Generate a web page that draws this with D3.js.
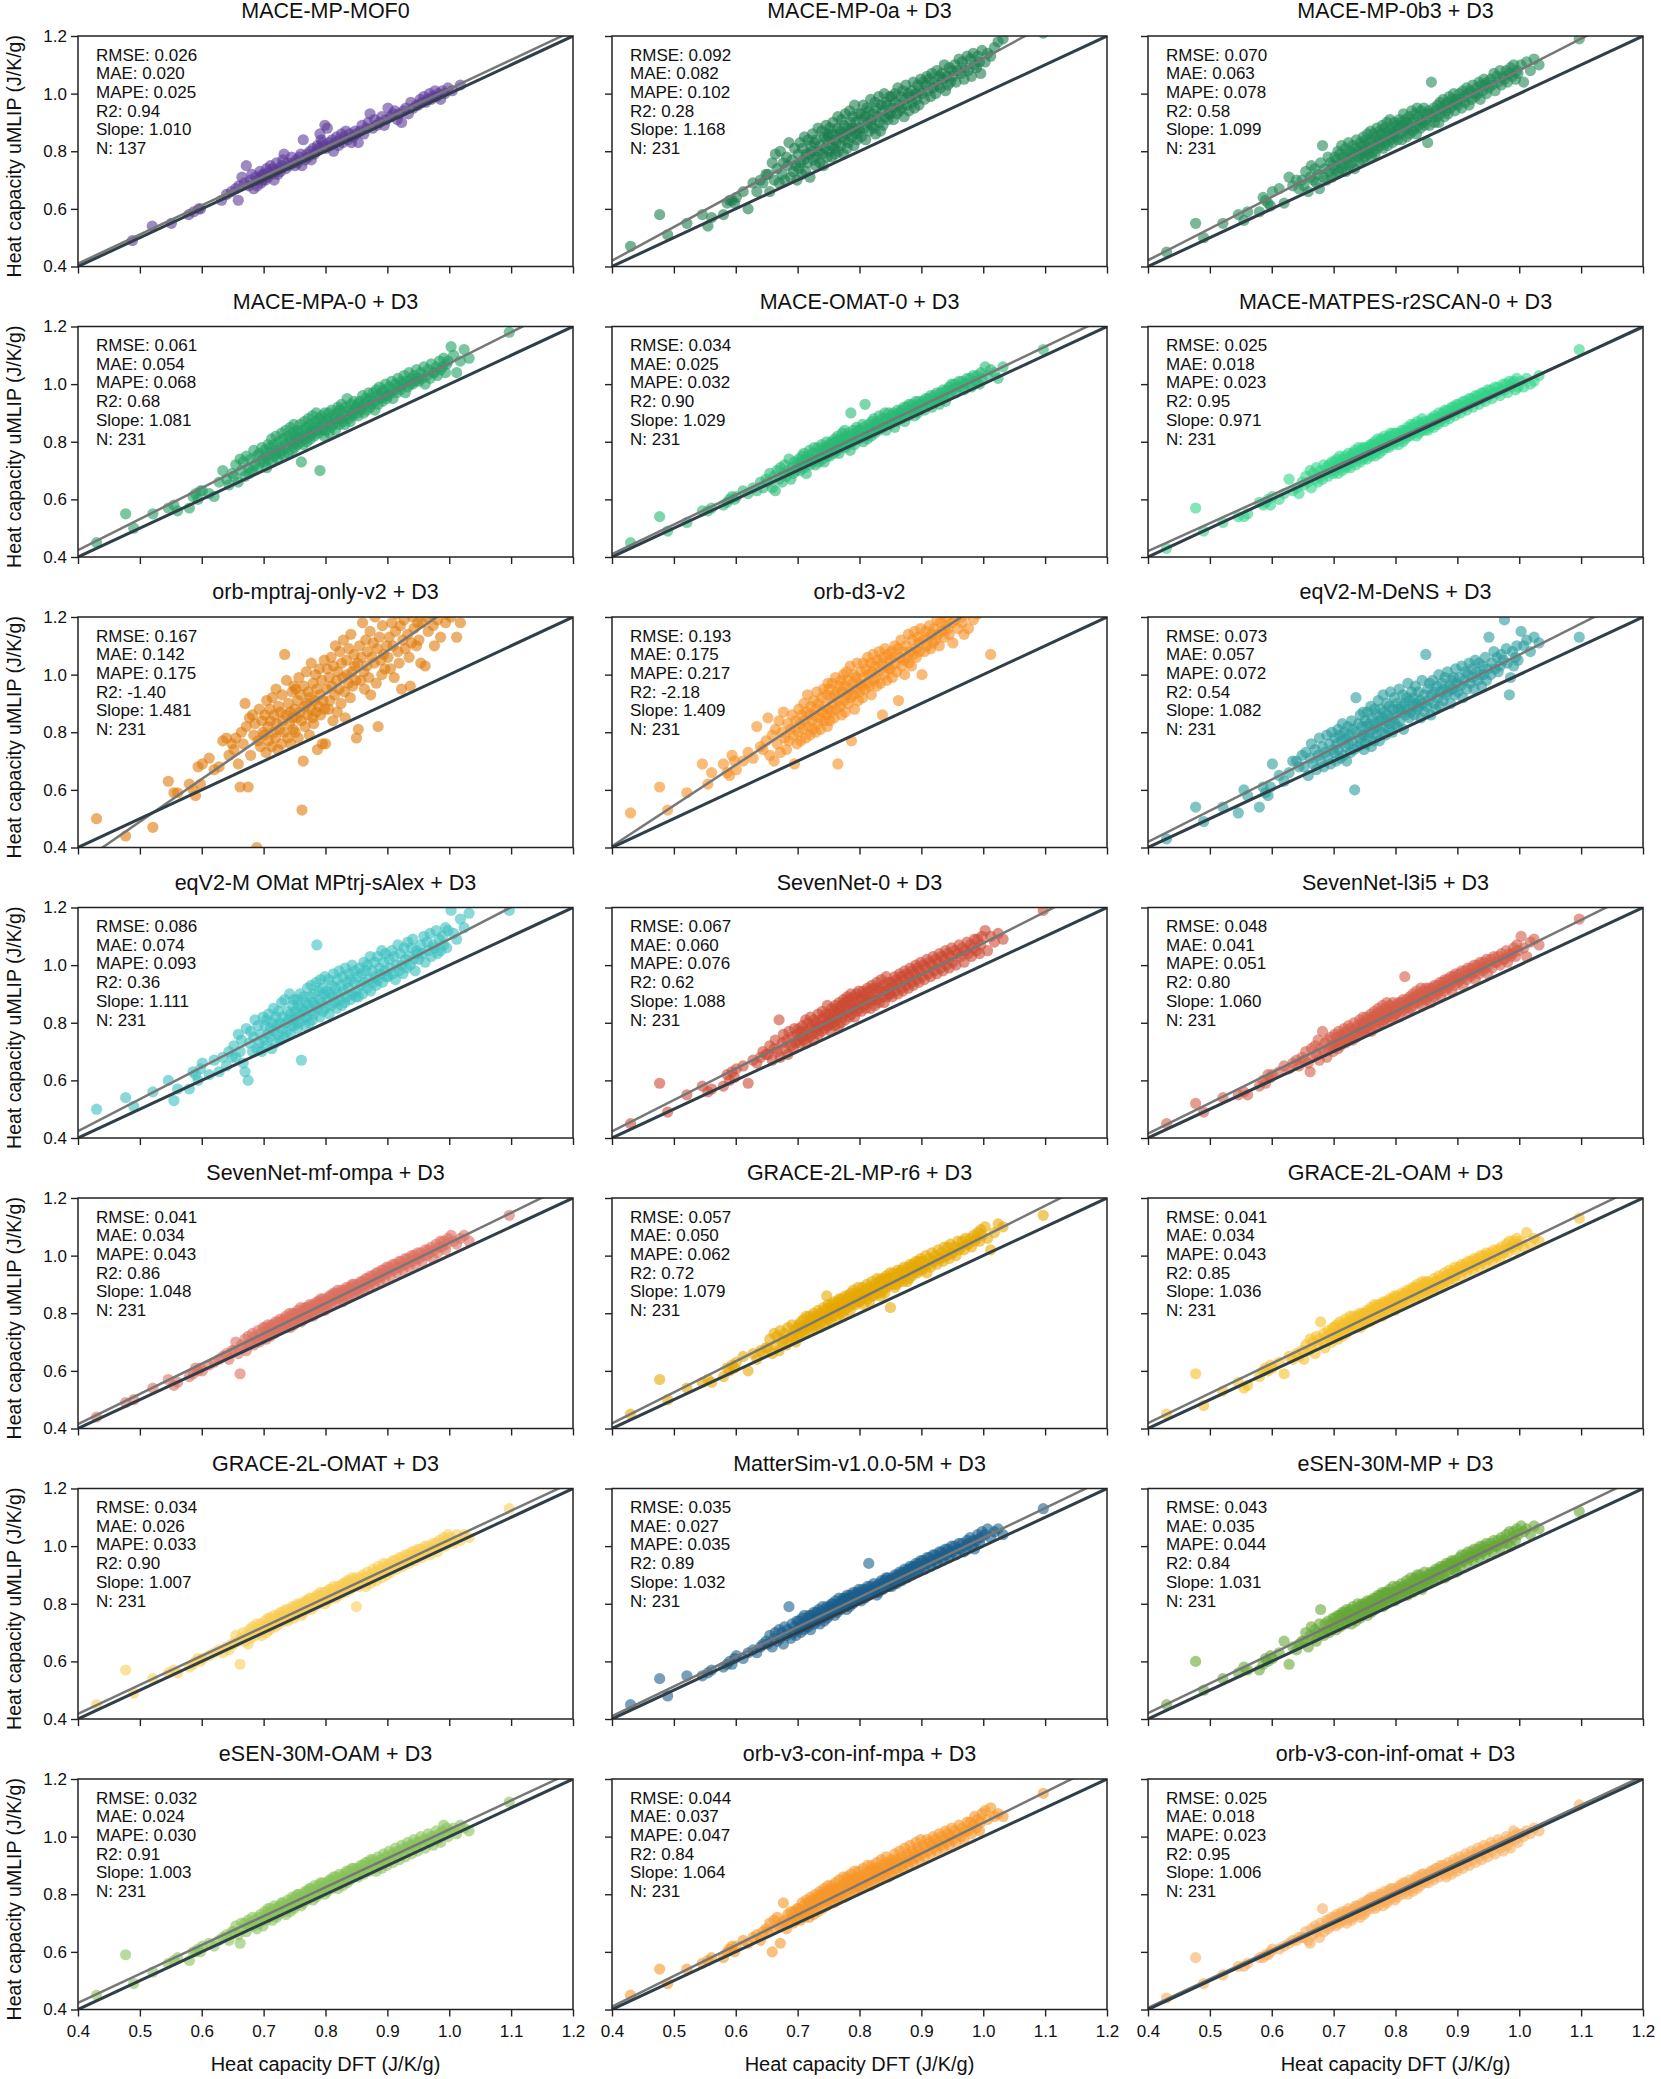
<!DOCTYPE html>
<html>
<head>
<meta charset="utf-8">
<script src="https://cdn.jsdelivr.net/npm/d3@7"></script>
<style>
  body { margin: 0; background: #fff; }
  svg text { font-family: "Liberation Sans", Arial, Helvetica, sans-serif; fill: #111; }
</style>
</head>
<body>
<svg id="chart" width="1661" height="2079"></svg>
<script>
// Heat capacity parity plots, one panel per uMLIP.

// DFT heat capacity of the 231 materials, in 0.001 J/K/g (sorted)
var dftX = [
  430,477,490,521,546,555,561,580,586,590,594,598,601,612,620,628,634,640,644,649,
  652,655,659,662,664,667,670,672,675,677,679,682,684,686,689,691,693,695,697,699,
  701,702,704,705,707,708,710,711,713,714,716,717,719,720,721,723,724,726,727,729,730,731,733,734,736,737,739,740,742,743,744,746,747,748,749,
  750,751,752,754,755,756,757,759,760,761,762,764,765,766,767,769,770,771,772,774,775,776,777,779,780,781,782,784,785,786,787,789,790,791,792,794,795,796,798,799,
  800,802,803,805,806,807,809,810,812,813,815,816,818,819,820,822,823,825,826,828,829,831,832,834,835,837,838,840,841,843,844,846,847,849,
  850,852,853,855,857,858,860,862,863,865,867,868,870,872,873,875,877,879,880,882,884,885,887,889,891,892,894,896,897,899,
  901,903,905,907,909,911,913,915,917,919,921,923,925,927,929,931,933,935,937,939,941,943,945,947,949,
  951,954,956,959,961,964,966,969,971,974,976,979,981,984,986,989,991,994,996,998,
  1003,1007,1012,1018,1024,1032,1097
];

// MACE-MP-MOF0 only covers 137 of them, in 0.001 J/K/g
var mof0X = [
  488,520,551,579,587,595,598,632,640,648,655,659,660,
  665,669,672,676,679,681,684,687,690,692,694,696,697,698,699,
  701,703,705,707,709,711,713,715,717,719,721,723,725,727,729,731,733,736,739,742,745,748,
  751,753,755,758,760,762,764,767,770,772,775,777,780,782,785,787,789,791,793,795,797,799,
  801,803,806,808,811,813,816,818,821,823,826,828,831,833,836,839,842,845,848,850,
  853,856,859,862,866,869,872,876,879,883,887,891,895,898,
  901,905,909,912,916,919,923,926,930,934,938,942,947,
  950,953,956,959,962,965,968,971,974,977,980,983,986,989,993,998,1005,1018
];

// uMLIP heat capacity, in 0.01 J/K/g, same order as the x arrays
var mof0Y = [
  49,54,55,58,59,60,60,63,65,66,67,63,68,
  71,69,75,68,70,72,67,71,68,70,73,69,71,72,70,
  72,70,74,71,73,75,72,74,70,73,76,72,74,73,75,77,79,74,76,75,78,76,
  75,77,76,78,79,75,84,77,79,78,80,77,81,79,80,82,81,86,84,83,82,89,
  81,88,83,82,84,80,83,85,82,84,86,83,85,87,84,86,83,85,87,86,
  83,87,89,86,88,90,93,88,91,89,90,92,89,91,
  95,92,93,94,91,93,90,94,95,93,97,95,96,
  96,98,97,99,97,98,100,98,99,101,99,100,98,101,100,102,101,103
];
var mp0aY = [
  47,58,51,55,58,54,57,58,62,63,63,62,64,66,60,69,66,70,69,72,
  72,66,76,70,79,74,69,80,72,76,70,78,75,83,71,77,73,81,75,70,
  79,74,83,76,72,81,77,85,73,79,76,84,79,71,82,80,86,77,83,75,84,78,88,80,76,82,87,79,75,85,81,89,84,78,86,
  85,80,88,82,78,86,90,81,84,79,83,88,92,80,86,87,82,91,85,79,89,84,93,86,81,88,83,94,87,90,85,92,88,82,96,90,86,84,93,88,
  87,93,85,91,96,88,92,84,95,90,94,87,98,91,89,93,88,97,86,95,92,99,90,87,96,94,89,100,92,97,96,91,93,99,
  93,99,95,91,100,97,93,102,96,94,99,95,101,92,98,103,96,100,94,99,101,97,104,95,100,98,103,96,101,105,
  100,104,98,103,106,101,105,99,107,102,104,100,108,103,106,102,107,105,110,101,106,103,109,104,108,
  106,110,104,108,112,107,111,105,109,113,108,112,106,114,110,109,113,111,107,115,
  111,114,113,116,118,119,121
];
var mp0b3Y = [
  45,55,50,55,58,56,59,59,64,63,62,61,66,67,62,71,68,70,67,70,
  68,73,66,71,75,70,74,69,72,67,76,82,71,74,70,78,73,76,71,75,
  74,78,72,77,80,73,79,76,82,74,78,75,81,73,79,77,83,75,80,78,76,82,79,74,81,84,78,80,76,83,79,82,77,85,80,
  82,78,84,80,86,79,83,81,87,78,84,80,86,82,79,85,88,81,84,83,87,82,86,89,81,84,88,83,86,90,82,87,85,91,84,88,83,86,90,87,
  85,89,84,88,91,86,90,84,89,93,87,91,85,90,88,92,86,90,94,87,91,88,93,86,95,89,92,88,94,91,90,95,89,93,
  91,83,94,89,93,104,92,95,90,94,92,96,90,97,93,95,98,92,96,94,97,93,99,95,98,96,100,94,98,97,
  96,100,98,95,101,99,97,102,100,96,101,98,103,100,99,102,100,104,98,103,101,105,103,100,104,
  102,105,103,107,101,106,104,108,103,106,105,108,104,107,109,106,110,105,108,107,
  110,104,111,108,112,110,119
];
var mpa0Y = [
  45,55,50,55,57,58,56,57,61,62,60,63,63,62,61,66,70,67,65,69,
  68,72,66,74,70,73,68,75,71,69,74,70,77,72,75,71,76,73,78,74,
  73,77,75,71,79,74,78,76,81,73,79,75,77,82,76,74,80,78,76,83,77,81,75,79,84,78,82,76,80,85,81,77,83,79,86,
  78,82,80,84,79,83,81,86,80,73,84,79,82,87,81,85,80,83,88,82,86,81,84,89,83,85,82,87,90,84,86,83,88,70,85,89,84,87,82,90,
  84,88,86,90,83,87,85,91,86,89,88,84,90,87,92,86,91,88,93,87,90,86,92,89,95,88,91,87,93,90,89,94,91,92,
  90,93,89,94,91,92,96,90,93,95,91,94,97,92,95,93,97,94,91,98,96,93,99,95,97,94,98,96,100,95,
  96,99,97,101,95,98,100,97,102,99,98,101,100,103,97,101,99,104,100,102,100,103,101,105,102,
  101,104,102,106,100,103,105,102,107,104,104,106,103,108,105,106,109,104,107,108,
  113,110,104,108,112,109,118
];
var omat0Y = [
  45,54,49,52,56,56,57,58,59,60,61,60,61,63,62,64,63,66,64,67,
  66,69,64,68,63,70,67,71,66,69,72,68,70,74,67,71,69,73,70,72,
  71,74,70,73,75,72,76,71,74,69,75,73,77,72,74,73,76,74,78,72,76,74,78,73,77,75,79,74,77,73,78,76,80,75,77,
  76,79,75,78,80,77,79,76,81,78,80,77,82,79,76,81,78,80,83,79,81,84,78,82,80,79,83,81,77,90,82,80,84,81,79,83,85,81,84,82,
  81,84,82,86,80,85,93,82,84,81,86,83,85,82,87,84,88,83,86,85,87,84,89,85,86,88,85,87,90,84,88,86,90,87,
  86,89,87,90,85,89,87,91,88,90,88,91,89,92,87,90,92,89,93,91,90,93,91,89,94,92,90,94,91,93,
  92,94,91,95,93,95,93,96,92,94,96,94,97,95,93,97,95,98,96,94,98,96,99,97,100,
  98,100,97,99,101,99,101,98,100,102,100,102,99,103,101,101,103,100,104,102,
  106,103,105,104,102,106,112
];
var matpesY = [
  43,57,49,52,54,54,55,59,58,59,60,58,61,60,62,67,63,64,62,66,
  65,68,66,70,64,69,67,71,66,68,70,67,72,69,71,68,72,70,73,69,
  70,73,71,74,69,72,75,71,73,70,74,72,75,71,73,72,76,74,71,75,73,76,74,77,72,76,74,78,75,73,77,75,78,74,76,
  75,78,76,74,77,78,76,79,75,77,79,76,78,80,75,79,77,81,78,76,80,78,81,77,79,80,82,78,81,79,81,78,82,80,83,80,82,79,83,81,
  80,83,81,79,82,83,81,84,80,82,84,81,83,85,82,84,82,86,83,85,83,86,84,82,87,85,83,86,84,88,86,84,87,85,
  86,84,87,85,88,86,88,85,89,87,88,86,90,87,89,88,90,87,91,89,89,91,88,90,92,90,92,89,91,93,
  91,93,90,92,94,92,94,91,93,95,93,95,92,94,96,94,96,93,95,97,95,97,94,96,98,
  96,98,95,97,99,97,99,96,98,100,98,100,97,101,99,100,101,98,102,99,
  101,99,102,100,101,103,112
];
var orbMptrajY = [
  50,44,38,47,63,59,59,62,60,58,68,62,69,71,67,68,77,78,72,76,
  74,78,69,61,80,76,90,82,61,85,72,86,79,83,40,77,88,75,84,80,
  79,86,73,91,82,77,88,84,75,92,80,86,78,95,83,74,89,81,87,76,93,84,80,107,86,98,78,90,83,87,76,94,85,81,96,
  88,80,95,85,91,78,99,87,93,84,53,70,96,89,82,101,90,86,94,79,92,88,104,85,97,83,91,100,87,95,74,89,102,93,86,98,76,91,105,88,
  76,95,102,88,99,91,106,96,84,103,93,110,98,87,101,95,108,90,104,99,112,94,85,105,100,97,109,92,114,101,96,107,103,98,
  78,104,81,110,98,106,118,101,95,112,103,108,99,115,93,106,111,104,120,97,109,82,113,105,100,117,107,102,122,110,
  106,113,102,118,110,99,115,121,108,104,117,95,112,119,109,123,114,106,96,111,120,116,125,110,118,
  112,104,118,124,103,120,115,126,121,117,110,123,119,125,113,122,128,118,121,124,
  120,126,113,118,124,129,135
];
var orbD3Y = [
  52,61,53,59,69,62,66,69,66,65,72,70,67,70,73,71,82,75,74,77,
  85,72,79,70,81,76,84,73,80,87,78,74,83,77,81,86,79,69,84,76,
  80,88,83,77,86,81,90,84,78,87,93,82,86,79,89,84,81,91,86,80,88,94,83,90,85,81,92,87,95,84,89,86,93,82,97,
  88,95,84,92,87,97,90,85,93,99,88,94,69,91,96,89,98,86,94,100,91,96,87,101,93,98,90,95,103,92,77,97,93,100,88,99,95,104,91,97,
  94,101,96,92,104,99,95,102,97,106,100,96,104,93,101,107,98,103,99,96,105,101,108,97,104,86,106,100,109,103,98,107,102,105,
  102,108,99,106,110,104,101,109,91,106,112,103,108,105,100,110,106,114,104,108,103,112,107,115,109,106,113,111,108,116,
  100,112,108,115,110,113,117,109,114,111,116,112,119,114,110,118,115,121,113,117,120,116,114,122,118,
  111,119,122,116,125,120,118,114,123,121,116,126,122,119,124,127,121,125,123,128,
  125,129,107,126,130,132,140
];
var eqv2DensY = [
  43,54,49,54,52,60,58,54,61,59,58,61,69,65,63,66,70,70,68,72,
  68,73,65,71,76,69,74,67,72,78,70,75,68,73,79,71,76,69,80,74,
  73,78,70,76,81,74,79,71,77,83,72,80,75,78,70,82,76,79,73,84,77,81,74,60,92,80,75,83,78,86,76,82,79,87,74,
  79,84,76,82,87,78,83,80,89,75,85,81,77,88,83,79,86,82,91,77,84,88,80,85,93,82,87,79,84,90,86,81,89,83,94,85,80,88,92,83,
  86,90,82,88,95,84,89,87,93,81,90,86,92,88,97,85,91,87,94,89,92,86,96,90,88,94,89,91,85,98,90,93,87,107,
  89,95,91,97,86,93,98,90,94,88,96,92,100,89,94,97,91,95,99,93,101,94,96,90,98,95,99,93,102,97,
  94,99,96,103,92,98,101,95,100,104,97,102,99,95,105,101,98,104,100,96,103,100,106,98,102,
  113,100,104,108,102,106,101,103,107,105,119,109,104,93,99,108,103,106,110,105,
  115,110,112,108,113,111,113
];
var eqv2OmatY = [
  50,54,51,56,60,53,57,57,63,62,60,64,66,62,67,63,68,65,70,68,
  72,68,76,70,74,66,63,78,60,73,77,70,75,81,71,79,73,76,70,82,
  74,79,72,81,76,83,75,78,71,80,85,77,73,82,79,76,84,80,74,87,78,82,75,88,80,77,84,81,90,76,83,79,86,81,88,
  79,84,82,88,78,86,80,90,83,67,85,81,89,84,79,87,82,92,86,80,89,84,93,81,87,83,90,86,94,107,85,91,88,82,95,87,92,84,90,96,
  85,91,88,95,83,90,86,93,89,97,87,92,85,95,90,98,88,93,86,96,91,87,99,89,94,92,97,88,95,100,90,94,98,89,
  91,96,89,99,93,97,90,101,94,98,92,100,95,103,91,98,94,101,96,93,103,95,99,97,105,94,101,98,104,96,
  96,102,99,105,97,103,95,100,107,98,104,100,97,106,102,99,108,103,100,106,109,102,98,105,104,
  102,107,104,110,101,108,105,111,103,107,106,112,104,109,105,110,107,113,106,112,
  119,111,109,116,113,118,119
];
var sevennet0Y = [
  45,59,49,55,58,56,57,58,62,60,63,61,64,65,59,67,66,68,70,69,
  69,72,67,71,74,70,81,68,73,76,71,74,69,77,72,75,71,78,73,76,
  74,78,73,77,75,79,74,77,81,73,76,80,75,78,82,76,79,74,81,78,80,77,83,76,79,81,77,84,79,82,78,83,80,86,79,
  79,83,81,77,85,82,80,84,79,86,81,85,83,79,87,84,80,86,82,88,83,87,81,85,89,84,88,82,86,90,83,87,85,89,82,86,90,84,88,91,
  85,89,84,88,91,86,90,85,88,92,87,91,85,89,93,88,92,86,90,94,88,92,87,91,95,89,93,87,91,96,89,94,90,92,
  90,94,89,93,96,91,95,90,94,97,92,96,91,95,98,93,97,92,96,99,94,98,93,97,100,95,99,94,98,101,
  96,100,95,99,102,97,101,96,100,103,98,102,97,101,104,99,103,98,102,105,100,104,99,103,106,
  101,105,100,104,107,103,106,101,105,108,104,107,103,106,109,105,109,104,107,110,
  112,105,110,108,111,109,119
];
var sevennetL3i5Y = [
  45,52,49,54,55,56,55,58,60,59,62,61,62,63,65,64,66,67,65,68,
  67,70,66,63,71,68,72,69,74,67,71,77,70,73,68,74,71,75,72,70,
  72,76,73,75,71,77,74,72,76,73,75,78,73,77,74,76,79,74,78,75,77,74,80,76,78,75,79,77,81,76,78,80,77,82,79,
  77,80,78,82,79,78,81,80,83,77,80,82,79,84,81,79,83,81,85,80,82,84,80,86,81,83,81,85,82,87,82,84,81,86,83,85,82,87,84,83,
  83,86,84,87,82,85,87,84,88,86,96,85,88,86,84,87,89,85,88,90,86,89,87,91,88,87,90,89,92,86,88,91,89,92,
  88,91,89,92,87,90,92,89,93,91,90,93,91,94,89,92,94,91,95,93,92,95,93,96,91,94,96,93,97,95,
  94,97,95,98,93,96,98,95,99,97,96,99,97,100,95,98,100,97,101,99,98,101,99,102,97,
  100,102,99,103,101,101,103,100,104,102,102,105,101,104,103,104,106,103,107,105,
  110,106,103,108,109,107,116
];
var sevennetOmpaY = [
  44,49,50,54,57,55,56,58,59,61,60,61,60,62,63,64,65,66,64,67,
  67,70,66,59,69,68,71,67,72,69,70,73,69,72,71,74,70,73,71,75,
  72,75,71,74,76,73,75,72,76,74,76,73,77,75,74,77,74,76,78,75,77,75,78,76,79,76,78,77,80,75,79,77,80,78,76,
  78,80,77,79,81,78,80,79,82,77,80,78,81,79,82,81,79,82,80,83,80,82,81,83,79,82,80,83,81,84,82,84,81,83,85,84,82,85,83,81,
  83,85,82,84,86,84,86,83,85,87,85,87,84,86,88,85,87,86,88,84,86,88,87,89,85,88,86,89,87,90,88,90,87,89,
  88,90,89,87,91,89,91,88,90,92,90,92,89,91,93,91,93,90,92,94,92,94,91,93,95,93,95,92,94,96,
  94,96,93,95,97,95,97,94,96,98,96,98,95,97,99,97,99,96,98,100,98,100,97,99,101,
  99,101,98,100,102,100,102,101,103,99,102,104,101,103,105,103,105,102,104,106,
  107,105,104,106,107,105,114
];
var graceMpY = [
  45,57,50,54,56,57,56,58,61,60,62,61,63,65,60,66,64,67,66,68,
  68,71,66,73,69,72,67,74,70,71,73,69,75,71,72,76,72,74,70,75,
  73,76,72,77,75,74,78,73,76,79,75,77,74,79,76,78,75,80,76,77,79,76,81,78,75,80,77,79,82,76,81,78,86,79,83,
  78,82,80,77,83,81,79,84,80,82,82,79,84,81,85,80,83,85,82,79,84,81,86,83,85,82,86,84,81,87,85,83,88,84,86,83,87,85,89,84,
  84,87,85,89,86,83,88,86,90,85,87,84,89,86,91,88,86,90,87,92,89,87,91,86,92,90,88,92,87,93,89,92,90,94,
  82,92,90,94,89,93,90,95,91,94,92,95,91,96,93,94,91,96,92,97,95,93,97,94,98,96,94,98,95,99,
  95,98,96,100,94,97,99,96,101,98,98,100,97,102,99,99,101,98,103,100,100,103,99,104,101,
  101,103,100,105,102,103,105,102,106,104,104,106,103,107,105,106,108,105,109,107,
  110,106,102,108,111,110,114
];
var graceOamY = [
  45,59,48,53,56,54,55,58,60,61,60,62,61,63,59,65,64,66,65,67,
  64,69,67,71,68,70,66,72,69,71,77,70,73,68,72,74,71,73,70,75,
  72,75,73,76,71,74,77,73,75,72,76,74,78,73,75,77,74,76,79,75,77,75,79,76,78,76,79,77,80,75,79,77,80,78,76,
  77,80,78,81,79,78,80,77,82,79,81,78,80,83,79,80,82,79,83,81,82,80,83,79,84,81,83,80,84,82,83,81,85,82,84,82,85,83,86,81,
  84,82,86,83,85,85,83,87,84,86,85,87,84,88,86,87,84,88,86,89,87,85,89,86,90,88,86,89,87,91,88,90,87,91,
  88,91,87,90,89,90,88,92,89,91,91,89,93,90,92,92,90,94,91,93,93,91,95,92,94,94,92,96,93,95,
  94,96,93,97,95,95,97,94,98,96,96,98,95,99,97,97,99,96,100,98,98,100,97,101,99,
  99,101,98,102,100,100,102,99,103,101,102,104,101,105,103,103,105,102,106,104,
  105,103,108,104,106,105,113
];
var graceOmatY = [
  45,57,49,54,56,57,56,58,59,60,61,60,61,62,63,64,63,65,64,66,
  66,69,67,59,68,70,67,69,66,71,68,72,70,69,73,71,70,73,69,72,
  71,74,72,70,75,73,71,75,72,74,73,76,72,75,74,76,73,75,77,74,75,77,74,76,78,76,74,78,75,77,77,79,76,78,75,
  77,79,76,78,80,77,79,78,80,76,79,77,80,78,81,80,78,81,79,82,79,81,78,82,80,81,79,82,80,83,82,80,83,81,84,81,83,82,84,80,
  82,84,81,83,85,83,85,82,84,86,84,82,85,83,86,85,83,86,84,87,85,87,84,86,88,86,88,85,87,89,86,88,87,89,
  79,88,86,89,87,88,90,87,89,86,89,91,88,90,87,90,92,89,91,88,91,93,90,92,89,92,94,91,93,90,
  92,94,91,93,95,93,95,92,94,96,94,96,93,95,97,95,97,94,96,98,96,98,95,97,99,
  97,99,96,98,100,98,100,97,99,101,99,101,98,102,100,101,103,100,102,104,
  103,101,104,102,104,103,113
];
var mattersimY = [
  45,54,48,55,55,56,57,58,59,60,59,61,62,61,63,64,63,65,66,67,
  66,69,65,68,70,67,71,68,70,66,72,69,71,79,68,73,70,72,69,74,
  71,74,72,70,75,73,71,76,72,74,75,72,76,73,71,76,74,77,73,75,77,74,76,78,73,77,75,79,76,74,78,76,79,75,77,
  78,76,79,77,80,77,80,78,76,81,79,77,80,78,82,80,78,81,79,82,81,79,82,78,83,80,82,79,83,81,82,80,84,81,83,83,81,84,82,85,
  82,84,81,85,83,84,82,85,83,86,94,83,86,84,85,85,87,84,86,83,86,84,87,85,88,87,85,88,86,89,87,89,86,88,
  88,86,89,87,90,89,87,90,88,91,90,88,91,89,92,91,89,92,90,93,92,90,93,91,94,93,91,94,92,95,
  93,95,92,94,96,94,96,93,95,97,95,97,94,96,98,96,98,95,97,99,97,99,96,98,100,
  98,100,97,99,101,99,101,98,100,102,101,103,100,102,99,102,104,101,103,105,
  104,106,103,105,106,104,113
];
var esenMpY = [
  45,60,50,54,56,58,57,57,59,61,60,62,61,63,67,59,65,64,66,67,
  67,70,65,69,72,68,71,67,70,73,78,70,69,73,71,74,70,73,71,75,
  72,75,71,74,76,73,76,72,75,77,74,77,73,76,78,74,77,75,78,73,76,79,75,77,74,78,80,76,79,75,77,80,76,79,78,
  77,80,78,81,76,80,78,81,79,77,81,79,82,78,80,82,80,79,83,81,80,83,81,84,79,83,81,84,80,82,84,82,85,81,83,84,82,86,83,81,
  84,82,86,83,85,85,83,87,84,86,86,84,88,85,83,87,85,89,86,84,88,86,89,85,90,88,86,90,87,85,89,87,91,88,
  89,87,90,88,91,90,88,91,89,92,91,89,92,90,93,92,90,93,89,94,93,91,94,92,95,94,92,95,93,91,
  94,96,93,97,95,95,97,94,98,96,96,98,95,99,97,97,99,96,100,98,98,100,97,101,99,
  99,101,98,102,100,100,102,99,103,101,102,104,101,105,100,103,105,102,106,104,
  107,105,106,104,107,106,112
];
var esenOamY = [
  45,59,49,53,56,57,58,57,60,60,61,60,62,63,62,64,65,66,64,67,
  67,69,66,63,70,68,70,67,71,69,70,72,69,71,68,72,70,73,71,69,
  72,74,71,73,75,73,72,75,74,71,74,76,73,75,72,75,73,76,74,77,75,77,74,76,73,76,78,75,77,74,77,79,76,78,75,
  77,79,76,78,80,78,80,77,79,76,79,77,80,78,81,79,81,78,80,82,80,82,79,81,78,81,83,80,79,82,81,83,80,82,84,82,84,81,83,80,
  82,84,81,83,85,83,85,82,84,86,84,86,83,85,82,85,87,84,86,83,85,87,86,88,84,86,88,85,87,89,87,89,86,88,
  87,89,86,88,90,88,90,87,89,91,89,91,88,90,92,90,92,89,91,88,91,93,90,92,89,92,94,91,93,90,
  93,95,92,94,91,94,96,93,95,92,95,97,94,96,93,96,98,95,97,94,97,99,96,98,95,
  98,100,97,99,96,99,101,98,100,97,100,102,99,101,98,102,104,101,103,100,
  102,103,101,104,103,102,112
];
var orbV3MpaY = [
  45,54,49,54,56,57,58,58,60,61,62,60,62,64,63,65,66,64,67,68,
  67,70,60,71,68,72,69,63,70,77,71,68,73,70,74,72,70,74,71,75,
  72,75,71,74,77,73,76,72,75,78,74,77,72,76,79,75,78,73,77,80,76,79,74,78,81,77,80,75,79,82,78,81,76,80,83,
  78,81,77,80,83,79,82,77,81,84,79,82,78,81,85,80,83,79,82,86,81,84,79,83,86,82,85,80,84,87,82,85,81,84,88,83,86,82,85,88,
  83,86,82,85,89,84,87,83,86,90,85,88,83,87,90,86,89,84,88,91,86,89,85,88,92,87,90,86,89,93,88,91,86,90,
  89,92,87,91,94,89,92,88,91,95,90,93,89,92,96,91,94,90,93,97,92,95,91,94,98,93,96,92,95,99,
  94,97,93,96,99,95,98,94,97,100,96,99,95,98,101,97,100,96,99,102,98,101,97,100,103,
  99,102,98,101,104,100,103,99,102,105,102,105,101,104,107,103,106,102,105,108,
  109,106,110,107,108,107,115
];
var orbV3OmatY = [
  44,58,49,52,55,55,56,58,58,59,59,60,61,61,62,63,64,64,65,65,
  65,67,64,63,68,66,69,67,68,65,70,75,67,69,71,68,71,69,72,70,
  70,72,69,73,71,72,70,73,71,74,71,73,72,74,70,73,75,72,74,71,74,72,75,73,76,74,76,73,75,72,75,77,74,76,73,
  75,77,74,76,78,76,78,75,77,79,76,78,77,79,75,77,79,76,78,80,78,80,77,79,76,79,81,78,80,77,79,81,78,80,82,80,82,79,81,78,
  80,82,79,81,83,81,83,80,82,84,82,84,81,83,80,83,85,82,84,81,83,85,84,86,82,84,86,83,85,87,85,87,84,86,
  85,87,84,86,88,86,88,85,87,89,87,89,86,88,90,88,90,87,89,86,89,91,88,90,87,90,92,89,91,88,
  91,93,90,92,89,92,94,91,93,90,93,95,92,94,91,94,96,93,95,92,95,97,94,96,93,
  96,98,95,97,94,97,99,96,98,95,98,100,97,99,96,100,102,99,101,98,
  101,100,102,101,103,102,111
];

var modelNames = [
  "MACE-MP-MOF0", "MACE-MP-0a + D3", "MACE-MP-0b3 + D3",
  "MACE-MPA-0 + D3", "MACE-OMAT-0 + D3", "MACE-MATPES-r2SCAN-0 + D3",
  "orb-mptraj-only-v2 + D3", "orb-d3-v2", "eqV2-M-DeNS + D3",
  "eqV2-M OMat MPtrj-sAlex + D3", "SevenNet-0 + D3", "SevenNet-l3i5 + D3",
  "SevenNet-mf-ompa + D3", "GRACE-2L-MP-r6 + D3", "GRACE-2L-OAM + D3",
  "GRACE-2L-OMAT + D3", "MatterSim-v1.0.0-5M + D3", "eSEN-30M-MP + D3",
  "eSEN-30M-OAM + D3", "orb-v3-con-inf-mpa + D3", "orb-v3-con-inf-omat + D3"
];
var rmseVals = [0.026,0.092,0.070,0.061,0.034,0.025,0.167,0.193,0.073,0.086,0.067,0.048,0.041,0.057,0.041,0.034,0.035,0.043,0.032,0.044,0.025];
var maeVals  = [0.020,0.082,0.063,0.054,0.025,0.018,0.142,0.175,0.057,0.074,0.060,0.041,0.034,0.050,0.034,0.026,0.027,0.035,0.024,0.037,0.018];
var mapeVals = [0.025,0.102,0.078,0.068,0.032,0.023,0.175,0.217,0.072,0.093,0.076,0.051,0.043,0.062,0.043,0.033,0.035,0.044,0.030,0.047,0.023];
var r2Vals   = [0.94,0.28,0.58,0.68,0.90,0.95,-1.40,-2.18,0.54,0.36,0.62,0.80,0.86,0.72,0.85,0.90,0.89,0.84,0.91,0.84,0.95];
var slopeVals = [1.010,1.168,1.099,1.081,1.029,0.971,1.481,1.409,1.082,1.111,1.088,1.060,1.048,1.079,1.036,1.007,1.032,1.031,1.003,1.064,1.006];
// intercept of the fitted line (J/K/g)
var interceptVals = [0.006,-0.047,-0.018,-0.009,-0.002,0.032,-0.251,-0.159,-0.013,-0.021,-0.012,-0.009,-0.004,-0.014,0.004,0.015,-0.003,0.008,0.022,-0.016,0.003];
var pointColors = [
  "#5e3c99", "#1b7d4d", "#1f8a55", "#22a063", "#28b974", "#30d488",
  "#e07b0a", "#f78d1e", "#2a9d9d", "#3cc0c0", "#cc4a32", "#d65c48",
  "#dc7060", "#e6a900", "#f5be28", "#f9cd55", "#1a5f8c", "#65a935",
  "#88c35b", "#f69628", "#f9ad5c"
];
var predY = [mof0Y, mp0aY, mp0b3Y, mpa0Y, omat0Y, matpesY, orbMptrajY, orbD3Y,
  eqv2DensY, eqv2OmatY, sevennet0Y, sevennetL3i5Y, sevennetOmpaY, graceMpY,
  graceOamY, graceOmatY, mattersimY, esenMpY, esenOamY, orbV3MpaY, orbV3OmatY];

var xTickVals = [0.4, 0.5, 0.6, 0.7, 0.8, 0.9, 1.0, 1.1, 1.2];
var yTickVals = [0.4, 0.6, 0.8, 1.0, 1.2];

var colLeft = [78, 612, 1148];
var rowTop0 = 36, rowStep = 290.5;
var W = 495, H = 230.5;

var svg = d3.select("#chart");

var x = d3.scaleLinear().domain([0.4, 1.2]).range([0, W]);
var y = d3.scaleLinear().domain([0.4, 1.2]).range([H, 0]);

modelNames.forEach(function(name, i) {
  var col = i % 3, row = Math.floor(i / 3);
  var xs = i === 0 ? mof0X : dftX;
  var ys = predY[i];
  if (xs.length !== ys.length) throw new Error(name + " length " + xs.length + " vs " + ys.length);

  var pts = xs.map(function(v, k) { return { dft: v / 1000, mlip: ys[k] / 100 }; });

  var g = svg.append("g")
    .attr("transform", `translate(${colLeft[col]}, ${rowTop0 + row * rowStep})`);

  g.append("clipPath").attr("id", "clip" + i)
    .append("rect").attr("width", W).attr("height", H);

  var inner = g.append("g").attr("clip-path", `url(#clip${i})`);

  inner.selectAll("circle")
    .data(pts)
    .enter()
    .append("circle")
    .attr("cx", d => x(d.dft))
    .attr("cy", d => y(d.mlip))
    .attr("r", 5.6)
    .attr("fill", pointColors[i])
    .attr("fill-opacity", 0.6);

  // fitted line
  inner.append("line")
    .attr("x1", x(0.4)).attr("y1", y(interceptVals[i] + slopeVals[i] * 0.4))
    .attr("x2", x(1.2)).attr("y2", y(interceptVals[i] + slopeVals[i] * 1.2))
    .attr("stroke", "#777").attr("stroke-width", 2.5);

  // parity line
  inner.append("line")
    .attr("x1", x(0.4)).attr("y1", y(0.4))
    .attr("x2", x(1.2)).attr("y2", y(1.2))
    .attr("stroke", "#2f3e47").attr("stroke-width", 3);

  // axes
  var xAxis = d3.axisBottom(x).tickValues(xTickVals).tickSize(7).tickPadding(8)
    .tickFormat(row === 6 ? d3.format(".1f") : () => "");
  var yAxis = d3.axisLeft(y).tickValues(yTickVals).tickSize(7).tickPadding(4)
    .tickFormat(col === 0 ? d3.format(".1f") : () => "");

  var gx = g.append("g").attr("transform", `translate(0, ${H})`).call(xAxis);
  var gy = g.append("g").call(yAxis);
  [gx, gy].forEach(function(a) {
    a.select(".domain").remove();
    a.selectAll("line").attr("stroke", "#222").attr("stroke-width", 1.4);
    a.selectAll("text").attr("font-size", 17).attr("fill", "#111")
      .style("font-family", '"Liberation Sans", Arial, sans-serif');
  });

  g.append("rect")
    .attr("width", W).attr("height", H)
    .attr("fill", "none").attr("stroke", "#222").attr("stroke-width", 1.5);

  // title
  g.append("text")
    .attr("x", W / 2).attr("y", -18)
    .attr("text-anchor", "middle")
    .attr("font-size", 21.5)
    .text(name);

  // stats
  var lines = [
    "RMSE: " + rmseVals[i].toFixed(3),
    "MAE: " + maeVals[i].toFixed(3),
    "MAPE: " + mapeVals[i].toFixed(3),
    "R2: " + r2Vals[i].toFixed(2),
    "Slope: " + slopeVals[i].toFixed(3),
    "N: " + pts.length
  ];
  g.append("g").selectAll("text")
    .data(lines)
    .enter()
    .append("text")
    .attr("x", 18)
    .attr("y", (d, k) => 24.5 + k * 18.7)
    .attr("font-size", 17)
    .text(d => d);

  if (col === 0) {
    g.append("text")
      .attr("transform", `translate(-64, ${H / 2 + 5}) rotate(-90)`)
      .attr("text-anchor", "middle")
      .attr("dy", "0.35em")
      .attr("font-size", 19.5)
      .text("Heat capacity uMLIP (J/K/g)");
  }
  if (row === 6) {
    g.append("text")
      .attr("x", W / 2).attr("y", H + 54)
      .attr("dy", "0.35em")
      .attr("text-anchor", "middle")
      .attr("font-size", 20)
      .text("Heat capacity DFT (J/K/g)");
  }
});
</script>
</body>
</html>
